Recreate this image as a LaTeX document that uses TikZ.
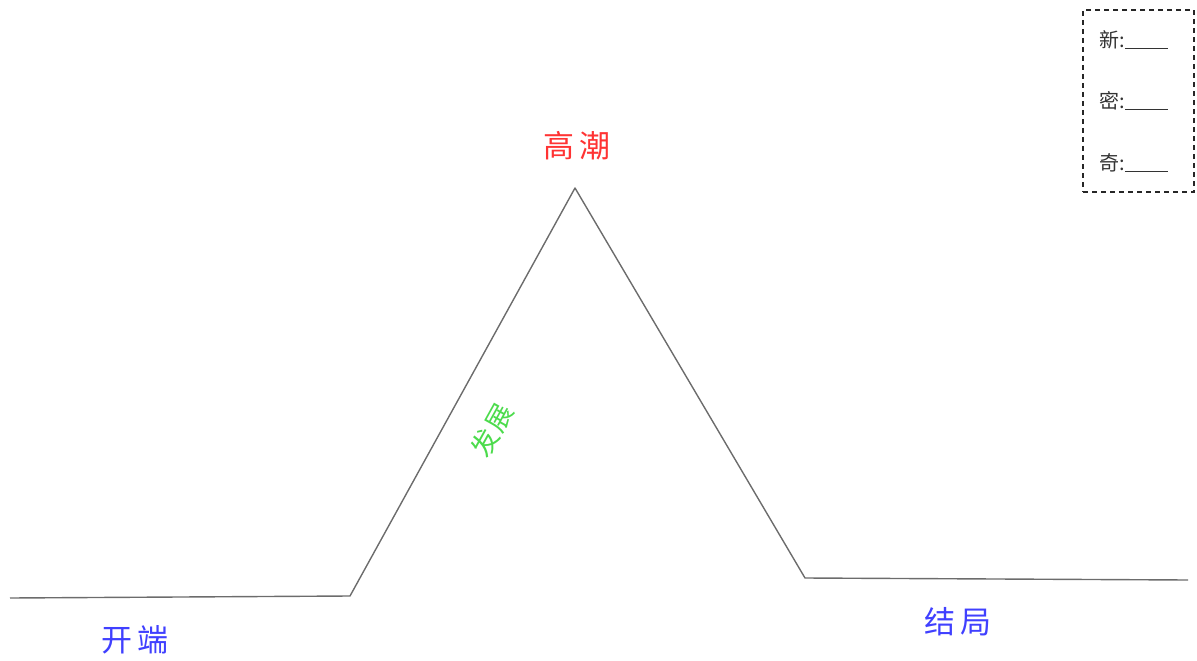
\documentclass[tikz,border=0pt]{standalone}
\usepackage{fontspec}
\newfontfamily\cjk{Noto Sans CJK SC}
\begin{document}
\begin{tikzpicture}[x=1pt,y=-1pt,
  plot/.style={draw=gray!85!black,line width=1.4pt},
  stage/.style={font=\cjk\fontsize{31}{33}\selectfont,inner sep=0pt},
  keyitem/.style={font=\cjk\fontsize{20}{22}\selectfont,text=black!80,inner sep=0pt,anchor=west},
  keybox/.style={draw=black!85,line width=2pt,dash pattern=on 5pt off 4pt}]
\useasboundingbox (0,0) rectangle (1197,661);
\coordinate (p0) at (10,598);
\coordinate (p1) at (350,596);
\coordinate (p2) at (575,188);
\coordinate (p3) at (805,578);
\coordinate (p4) at (1188,580);
\draw[plot,line join=round] (p0) -- (p1) -- (p2) -- (p3) -- (p4);
\node[stage,text=red!80] (climax) at (577,146) {高\,潮};
\node[stage,text=blue!75] (start) at (135,640) {开\,端};
\node[stage,text=blue!75] (end) at (958,622) {结\,局};
\node[inner sep=0pt,text=green!80!black!70,rotate=61,font=\cjk\fontsize{27}{29}\selectfont] (dev) at (492,430) {发\kern2pt展};
\node[keybox,minimum width=111pt,minimum height=182pt,inner sep=0pt] (key) at (1138.5,101) {};
\node[keyitem] (k1) at (1099,40) {新:\rule[-1pt]{43pt}{0.8pt}};
\node[keyitem] (k2) at (1099,101) {密:\rule[-1pt]{43pt}{0.8pt}};
\node[keyitem] (k3) at (1099,163) {奇:\rule[-1pt]{43pt}{0.8pt}};
\end{tikzpicture}
\end{document}
